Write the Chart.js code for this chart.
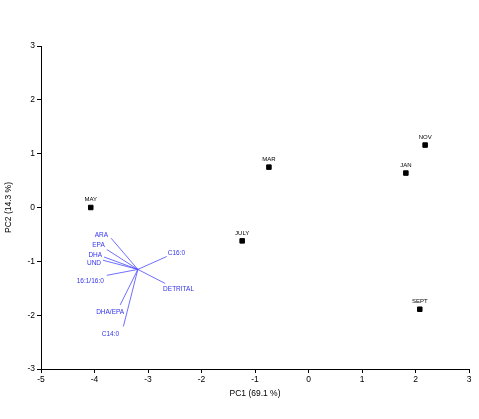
<!DOCTYPE html><html><head><script src="https://cdn.jsdelivr.net/npm/chart.js@4"></script>
<style>body{margin:0;background:#fff}#w{width:479px;height:419px}</style></head><body><div id="w"><canvas id="c"></canvas></div>
<script>
const sampleNames=['MAY','MAR','JULY','JAN','NOV','SEPT'];
const sampleX=[-4.07,-0.74,-1.24,1.82,2.18,2.08];
const sampleY=[0.0,0.75,-0.62,0.64,1.16,-1.89];
const vecOrigin=[-3.19,-1.15];
const vecNames=['ARA','EPA','DHA','UND','16:1/16:0','DHA/EPA','C14:0','C16:0','DETRITAL'];
const vecX=[-3.69,-3.77,-3.82,-3.84,-3.77,-3.52,-3.46,-2.65,-2.68];
const vecY=[-0.57,-0.78,-0.92,-0.98,-1.26,-1.81,-2.21,-0.91,-1.41];
const xTicks=[-5,-4,-3,-2,-1,0,1,2,3];
const yTicks=[-3,-2,-1,0,1,2,3];
const labelPlace={ARA:['right',-3,-3],EPA:['right',-2,-4],DHA:['right',-2,-2],UND:['right',-2,3],'16:1/16:0':['right',-3,6],'DHA/EPA':['right',4,7],'C14:0':['center',-13,8],'C16:0':['left',1,-3],'DETRITAL':['left',-2,6]};
const datasets=[{data:sampleX.map((x,i)=>({x,y:sampleY[i]})),pointStyle:'rect',pointRadius:3.2,backgroundColor:'#000',borderColor:'#000',showLine:false}];
vecNames.forEach((n,i)=>datasets.push({data:[{x:vecOrigin[0],y:vecOrigin[1]},{x:vecX[i],y:vecY[i]}],showLine:true,borderColor:'#4a4aff',borderWidth:0.8,pointRadius:0}));
const labels={id:'labels',afterDatasetsDraw(ch){const c=ch.ctx,xs=ch.scales.x,ys=ch.scales.y;c.save();c.font='6px "Liberation Sans"';c.fillStyle='#000';c.textAlign='center';c.textBaseline='bottom';
sampleNames.forEach((n,i)=>c.fillText(n,xs.getPixelForValue(sampleX[i]),ys.getPixelForValue(sampleY[i])-5));
c.fillStyle='#3333ee';c.textBaseline='middle';c.font='6.5px "Liberation Sans"';
vecNames.forEach((n,i)=>{const p=labelPlace[n];c.textAlign=p[0];c.fillText(n,xs.getPixelForValue(vecX[i])+p[1],ys.getPixelForValue(vecY[i])+p[2]);});c.restore();}};
const ax=(min,max,ticks,title,w,isX)=>({type:'linear',min,max,afterBuildTicks:s=>{s.ticks=ticks.map(v=>({value:v}))},
ticks:{color:'#000',font:{family:'Liberation Sans',size:8.5},padding:2,autoSkip:false},
grid:{drawOnChartArea:false,color:'#000',tickLength:4},border:{color:'#000'},
title:{display:true,text:title,color:'#000',font:{family:'Liberation Sans',size:8.5},padding:isX?{top:3}:{bottom:2}},
afterFit:s=>{if(isX)s.height=w;else s.width=w;}});
new Chart(document.getElementById('c'),{type:'scatter',data:{datasets},plugins:[labels],options:{responsive:true,maintainAspectRatio:false,animation:false,
layout:{padding:{top:46,right:10,left:0,bottom:16}},plugins:{legend:{display:false},tooltip:{enabled:false}},
scales:{x:ax(-5,3,xTicks,'PC1 (69.1 %)',34,true),y:ax(-3,3,yTicks,'PC2 (14.3 %)',41,false)}}});
</script></body></html>
